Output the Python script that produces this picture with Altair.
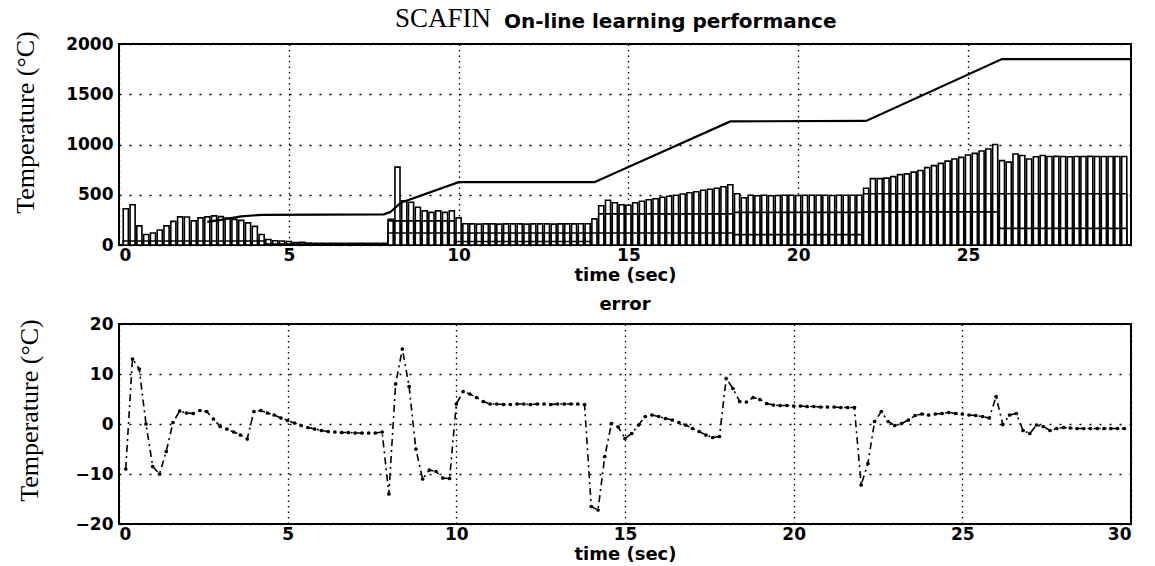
import altair as alt
import pandas as pd

# ---------------- data ----------------
# bar sample times (s) and main bar heights (deg C)
bar_t = [round(0.2 * i, 1) for i in range(1, 149)]
bar_main = [360, 400, 190, 105, 120, 150, 190, 235, 280, 278,
            240, 270, 280, 290, 282, 268, 255, 245, 220, 185,
            105, 55, 42, 40, 35, 25, 28, 20,
            18, 17, 17, 16, 16, 16, 16, 16, 16, 17, 18,
            255, 775, 440, 425, 375, 340, 325, 340, 325, 340,
            270, 212,
            210, 208, 210, 210, 208, 210, 210, 210, 208, 210, 210, 210, 208, 210, 210, 210, 212, 212,
            260, 390, 445, 420, 400, 395, 420, 435, 450, 460,
            475, 485, 495, 508, 520, 530, 545, 555, 565, 580,
            600, 510, 470, 495, 490,
            495, 490, 492, 495, 495, 492, 495, 495, 495, 495, 492, 495, 495, 495, 495,
            565, 660, 660, 665, 680, 700, 708, 725, 742, 770,
            790, 812, 835, 855, 872, 895, 912, 935, 955, 1000,
            840, 825, 905, 890, 855, 878, 890,
            880, 882, 880, 878, 880, 880, 882, 880, 880, 880, 880, 880]

# inner (overlaid) bar levels per time segment
seg_start = [0.2, 4.4, 8.0, 10.0, 14.0, 18.2, 22.0, 26.0]
seg_end = [4.2, 7.8, 9.8, 13.8, 18.0, 21.8, 25.8, 29.6]
seg_mid = [40, 10, 240, 120, 310, 325, 510, 510]
seg_low = [40, 10, 120, 35, 120, 103, 330, 165]

# set-point / temperature trajectory (visible part)
set_t = [2.6, 3.0, 3.6, 4.2, 7.8, 8.0, 8.3, 10.0, 14.0, 18.0, 22.0, 26.0, 29.8]
set_v = [230, 250, 285, 300, 305, 330, 420, 625, 625, 1230, 1235, 1850, 1850]

# tracking error
err_t = [round(0.2 * i, 1) for i in range(1, 150)]
err_v = [-9, 13, 11, 0, -8.5, -10, -5.5, 0.3, 2.6, 2.2,
         2.1, 2.7, 2.5, 1.0, -0.5, -1.0, -1.6, -2.2, -3.0, 2.5,
         2.7, 2.2, 1.8, 1.2, 0.7, 0.2, -0.3, -0.7, -1.0, -1.3,
         -1.5, -1.6, -1.7, -1.7, -1.8, -1.8, -1.8, -1.8, -1.6,
         -14, 8, 15, 7.5, -5, -11, -9.2, -9.5, -10.8, -10.9,
         4, 6.5, 6.0, 5.3, 4.5, 4.0,
         4.0, 3.9, 3.9, 4.0, 4.0, 3.9, 4.0, 4.0, 3.9, 4.0, 4.0, 4.0, 4.0, 3.9,
         -16.5, -17.2, -6.5, 0.1, -0.6, -2.9, -1.9, -0.2, 1.5, 1.8,
         1.5, 1.1, 0.8, 0.3, -0.2, -0.9, -1.5, -2.2, -2.7, -2.5,
         9.1, 7.1, 4.5, 4.4, 5.3, 4.9, 4.1, 3.8,
         3.7, 3.7, 3.6, 3.6, 3.5, 3.5, 3.4, 3.4, 3.4, 3.3, 3.3, 3.3,
         -12.2, -7.9, 0.5, 2.5, 0.5, -0.3, 0.1, 0.8, 1.7, 2.0,
         1.8, 2.0, 2.1, 2.3, 2.1, 2.0, 1.8, 1.7, 1.5, 1.2,
         5.5, -0.1, 1.8, 2.1, -1.3, -1.9, -0.2, -0.5, -1.3, -0.9,
         -0.7, -0.8, -0.9, -0.9, -0.9, -0.9, -0.9, -0.9, -0.9, -0.9]

x_ticks_top = [0, 5, 10, 15, 20, 25]
x_ticks_bot = [0, 5, 10, 15, 20, 25, 30]
y_ticks_top = [0, 500, 1000, 1500, 2000]
y_ticks_bot = [-20, -10, 0, 10, 20]

# ---------------- tables ----------------
HALF = 0.075
rows = []
for t, h in zip(bar_t, bar_main):
    rows.append({"t0": t - HALF, "t1": t + HALF, "v": h, "z": 0, "k": 0})
    for s0, s1, m, lo in zip(seg_start, seg_end, seg_mid, seg_low):
        if s0 - 1e-6 <= t <= s1 + 1e-6:
            if m < h:
                rows.append({"t0": t - HALF, "t1": t + HALF, "v": m, "z": 0, "k": 1})
            if lo < m:
                rows.append({"t0": t - HALF, "t1": t + HALF, "v": lo, "z": 0, "k": 2})
bars = pd.DataFrame(rows).sort_values("k")
setp = pd.DataFrame({"t": set_t, "v": set_v})
err = pd.DataFrame({"t": err_t, "v": err_v})

W, H1, H2 = 1012, 201, 200
LBL = dict(labelFont="DejaVu Sans", labelFontWeight="bold", labelFontSize=17, labelColor="black")
TTL = dict(titleFont="DejaVu Sans", titleFontWeight="bold", titleFontSize=18, titleColor="black")
YT = dict(titleFont="Liberation Serif", titleFontWeight="normal", titleFontSize=26, titleColor="black",
          titleBaseline="middle", titleAngle=270)
GX = dict(grid=True, gridDash=[1.5, 4], gridColor="black", gridWidth=1.3, gridOpacity=1,
          ticks=False, domain=False)
GY = dict(grid=True, gridDash=[2, 8], gridColor="black", gridWidth=1.5, gridOpacity=1,
          ticks=False, domain=False)

x_top = alt.X("t0:Q", scale=alt.Scale(domain=[0, 29.8], nice=False, zero=False),
              axis=alt.Axis(values=x_ticks_top, labelPadding=2, title="time (sec)", titlePadding=3,
                            **GX, **LBL, **TTL))
y_top = alt.Y("v:Q", scale=alt.Scale(domain=[0, 2000], nice=False),
              axis=alt.Axis(values=y_ticks_top, format="d", labelPadding=6,
                            title="Temperature (°C)", titleX=-94, titleY=78, **GY, **LBL, **YT))

bar_layer = alt.Chart(bars).mark_rect(fill="white", stroke="black", strokeWidth=1.6, clip=True).encode(
    x=x_top, x2="t1:Q", y=y_top, y2="z:Q", order=alt.Order("k:Q"))
set_layer = alt.Chart(setp).mark_line(color="black", strokeWidth=2.2, clip=True).encode(
    x="t:Q", y="v:Q")
t1 = alt.Chart(pd.DataFrame({"s": ["SCAFIN"]})).mark_text(
    font="Liberation Serif", fontSize=27, align="right", baseline="alphabetic", color="black"
).encode(text="s:N", x=alt.value(372), y=alt.value(-17))
t2 = alt.Chart(pd.DataFrame({"s": ["On-line learning performance"]})).mark_text(
    font="DejaVu Sans", fontWeight="bold", fontSize=20, align="left", baseline="alphabetic", color="black"
).encode(text="s:N", x=alt.value(385), y=alt.value(-16))

top = alt.layer(bar_layer, set_layer, t1, t2).properties(width=W, height=H1)

x_bot = alt.X("t:Q", scale=alt.Scale(domain=[0, 30], nice=False, zero=False),
              axis=alt.Axis(values=x_ticks_bot, labelPadding=2, title="time (sec)", titlePadding=3,
                            **GX, **LBL, **TTL))
y_bot = alt.Y("v:Q", scale=alt.Scale(domain=[-20, 20], nice=False),
              axis=alt.Axis(values=y_ticks_bot, format="d", labelPadding=6,
                            title="Temperature (°C)", titleX=-90, titleY=86, **GY, **LBL, **YT))

err_line = alt.Chart(err).mark_line(color="black", strokeWidth=1.6, strokeDash=[7, 4, 2, 4]).encode(
    x=x_bot, y=y_bot)
err_pts = alt.Chart(err).mark_circle(color="black", size=14, opacity=1).encode(x="t:Q", y="v:Q")

bottom = alt.layer(err_line, err_pts).properties(
    width=W, height=H2,
    title=alt.Title("error", font="DejaVu Sans", fontWeight="bold", fontSize=18, color="black", offset=1))

chart = alt.vconcat(top, bottom, spacing=10).properties(
    padding={"left": 11, "top": 4, "right": 5, "bottom": 1}, background="white"
).configure_view(stroke="black", strokeWidth=2)

chart.save("out.html", embed_options={"renderer": "svg", "actions": False})
